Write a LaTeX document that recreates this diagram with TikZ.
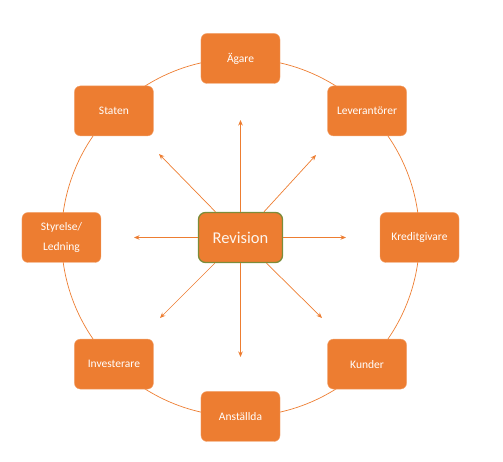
\documentclass[tikz,border=0pt]{standalone}
\usepackage{fontspec}
\setmainfont{Carlito}
\usetikzlibrary{arrows.meta}

\definecolor{boxorange}{RGB}{237,125,49}
\definecolor{revgreen}{RGB}{124,140,58}

\tikzset{
  party/.style={rectangle, rounded corners=6pt, fill=boxorange, draw=boxorange!70!white,
    line width=0.4pt, minimum width=79pt, minimum height=50pt, text=white,
    font=\fontsize{11.5}{20}\selectfont, align=center},
  ray/.style={draw=boxorange, line width=0.7pt, -{Stealth[length=5.5pt,width=4.5pt]}}
}

\begin{document}
\begin{tikzpicture}[x=1pt, y=1pt]

    \useasboundingbox (-240.5,-224.5) rectangle (262.5,237.5);

    % outer ring
    \draw[boxorange, line width=0.7pt] (0,0) circle[radius=179];

    % centre
    \node[rectangle, rounded corners=7pt, fill=boxorange, draw=revgreen, line width=1.3pt,
      minimum width=84pt, minimum height=50pt, text=white!92!boxorange,
      font=\fontsize{16.5}{20}\selectfont] (rev) at (0,0) {Revision};

    % parties round the ring
    \node[party] (agare) at (90:179) {Ägare};
    \node[party] (lev) at (45:179) {Leverantörer};
    \node[party] (kredit) at (0:179) {Kreditgivare};
    \node[party] (kunder) at (-45:179) {Kunder};
    \node[party] (anst) at (-90:179) {Anställda};
    \node[party] (inv) at (-135:179) {Investerare};
    \node[party] (styr) at (180:179) {Styrelse/\\Ledning};
    \node[party] (staten) at (135:179) {Staten};

    % arrow ends
    \coordinate (tN) at (0,117.5);
    \coordinate (tNE) at (75.5,82.5);
    \coordinate (tE) at (105.5,0);
    \coordinate (tSE) at (81.5,-80.5);
    \coordinate (tS) at (0,-119.5);
    \coordinate (tSW) at (-80.5,-80.5);
    \coordinate (tW) at (-106.5,0);
    \coordinate (tNW) at (-81.5,83.5);

    % arrows out of the centre
    \draw[ray] (rev) -- (tN);
    \draw[ray] (rev) -- (tNE);
    \draw[ray] (rev) -- (tE);
    \draw[ray] (rev) -- (tSE);
    \draw[ray] (rev) -- (tS);
    \draw[ray] (rev) -- (tSW);
    \draw[ray] (rev) -- (tW);
    \draw[ray] (rev) -- (tNW);

\end{tikzpicture}
\end{document}
